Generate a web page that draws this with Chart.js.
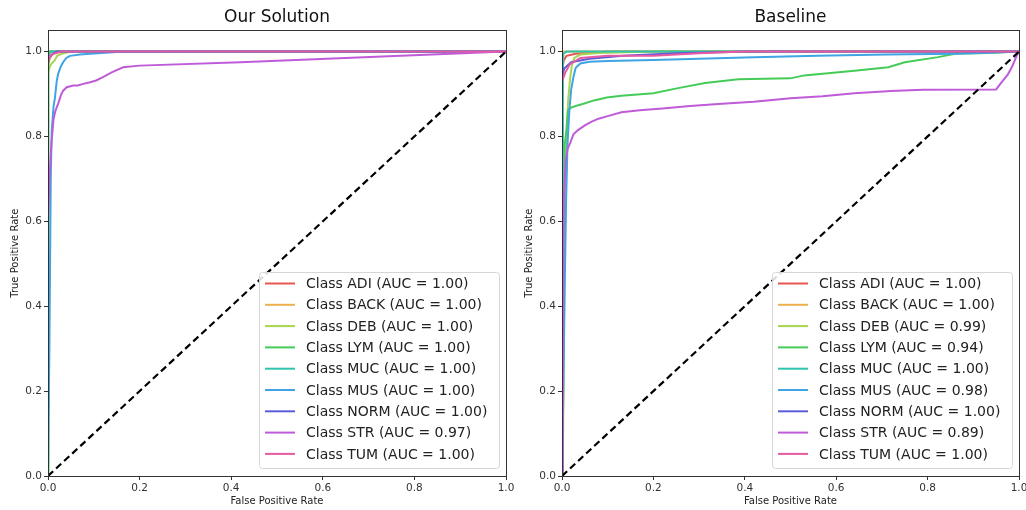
<!DOCTYPE html>
<html>
<head>
<meta charset="utf-8">
<script src="https://cdn.jsdelivr.net/npm/chart.js@4/dist/chart.umd.min.js"></script>
<style>
  html, body { margin: 0; padding: 0; background: #fff; }
  #wrap { position: relative; width: 1026px; height: 510px; overflow: hidden; }
  .box { position: absolute; top: 0; height: 510px; }
</style>
</head>
<body>
<div id="wrap">
  <div class="box" style="left:0;width:522px"><canvas id="c1" width="522" height="510"></canvas></div>
  <div class="box" style="left:513px;width:513px"><canvas id="c2" width="513" height="510"></canvas></div>
</div>
<script>
// ---------- data ----------
const categories = ['ADI', 'BACK', 'DEB', 'LYM', 'MUC', 'MUS', 'NORM', 'STR', 'TUM'];
const colors = ['#e9574f', '#eeb04f', '#a7d54f', '#45cc58', '#2fc4ad', '#3ea4e4', '#5c5cd9', '#bf5bd9', '#e75aa3'];
const oursAUC = [1.00, 1.00, 1.00, 1.00, 1.00, 1.00, 1.00, 0.97, 1.00];
const baseAUC = [1.00, 1.00, 0.99, 0.94, 1.00, 0.98, 1.00, 0.89, 1.00];
const tickValues = [0, 0.2, 0.4, 0.6, 0.8, 1.0];
const chance = [[0, 0], [1, 1]];

// ROC points [FPR, TPR] — "Our Solution"
const oursADI  = [[0, 0], [0, 0.97], [0.004, 0.985], [0.01, 0.995], [0.02, 1], [1, 1]];
const oursBACK = [[0, 0], [0, 0.998], [0.003, 1], [1, 1]];
const oursDEB  = [[0, 0], [0, 0.95], [0.004, 0.965], [0.008, 0.972], [0.015, 0.98], [0.02, 0.99], [0.03, 0.995], [0.05, 1], [1, 1]];
const oursLYM  = [[0, 0], [0, 0.999], [0.002, 1], [1, 1]];
const oursMUC  = [[0, 0], [0, 0.99], [0.006, 1], [1, 1]];
const oursMUS  = [[0, 0], [0.003, 0.3], [0.006, 0.7], [0.008, 0.81], [0.012, 0.87], [0.015, 0.89], [0.019, 0.93], [0.022, 0.947], [0.028, 0.965], [0.033, 0.975], [0.04, 0.985], [0.048, 0.99], [0.07, 0.993], [0.092, 0.995], [0.15, 0.999], [0.3, 1], [1, 1]];
const oursNORM = [[0, 0], [0, 0.98], [0.005, 0.99], [0.015, 0.998], [0.02, 1], [1, 1]];
const oursSTR  = [[0, 0], [0, 0.6], [0.004, 0.72], [0.008, 0.79], [0.012, 0.84], [0.016, 0.86], [0.022, 0.877], [0.028, 0.897], [0.033, 0.908], [0.041, 0.916], [0.055, 0.92], [0.065, 0.92], [0.077, 0.924], [0.092, 0.928], [0.105, 0.932], [0.12, 0.94], [0.139, 0.951], [0.164, 0.963], [0.2, 0.967], [0.42, 0.975], [1, 1]];
const oursTUM  = [[0, 0], [0, 0.98], [0.005, 0.99], [0.012, 0.995], [0.03, 1], [1, 1]];

// ROC points [FPR, TPR] — "Baseline"
const baseADI  = [[0, 0], [0, 0.96], [0.004, 0.98], [0.01, 0.99], [0.03, 0.995], [0.1, 1], [1, 1]];
const baseBACK = [[0, 0], [0, 0.998], [0.004, 1], [1, 1]];
const baseDEB  = [[0, 0], [0.002, 0.05], [0.004, 0.3], [0.006, 0.58], [0.009, 0.75], [0.013, 0.88], [0.018, 0.94], [0.022, 0.97], [0.027, 0.985], [0.04, 0.993], [0.08, 0.997], [0.2, 1], [1, 1]];
const baseLYM  = [[0, 0], [0.002, 0.5], [0.006, 0.78], [0.01, 0.82], [0.013, 0.862], [0.02, 0.868], [0.03, 0.872], [0.047, 0.877], [0.07, 0.885], [0.098, 0.892], [0.13, 0.896], [0.2, 0.902], [0.254, 0.914], [0.313, 0.926], [0.386, 0.935], [0.5, 0.937], [0.53, 0.944], [0.64, 0.955], [0.714, 0.963], [0.75, 0.975], [0.823, 0.987], [0.86, 0.995], [0.93, 0.997], [1, 1]];
const baseMUC  = [[0, 0], [0.002, 0.95], [0.003, 0.995], [0.01, 1], [1, 1]];
const baseMUS  = [[0, 0], [0.003, 0.2], [0.006, 0.45], [0.009, 0.65], [0.012, 0.78], [0.016, 0.86], [0.02, 0.91], [0.025, 0.94], [0.03, 0.962], [0.04, 0.972], [0.06, 0.976], [0.1, 0.978], [0.2, 0.98], [0.3, 0.983], [0.42, 0.987], [0.56, 0.99], [0.71, 0.993], [0.86, 0.995], [0.95, 0.998], [1, 1]];
const baseNORM = [[0, 0], [0, 0.94], [0.005, 0.96], [0.02, 0.975], [0.06, 0.983], [0.134, 0.99], [0.25, 0.996], [0.4, 1], [1, 1]];
const baseSTR  = [[0, 0], [0.002, 0.3], [0.004, 0.65], [0.008, 0.74], [0.012, 0.77], [0.018, 0.785], [0.025, 0.805], [0.035, 0.815], [0.05, 0.826], [0.065, 0.835], [0.08, 0.842], [0.1, 0.848], [0.13, 0.857], [0.17, 0.862], [0.22, 0.866], [0.28, 0.872], [0.35, 0.877], [0.42, 0.882], [0.5, 0.89], [0.57, 0.895], [0.64, 0.902], [0.72, 0.907], [0.79, 0.91], [0.95, 0.911], [0.96, 0.925], [0.975, 0.945], [0.985, 0.965], [0.995, 0.99], [1, 1]];
const baseTUM  = [[0, 0], [0, 0.93], [0.007, 0.95], [0.017, 0.97], [0.04, 0.985], [0.1, 0.99], [0.2, 0.99], [0.3, 0.996], [0.4, 1], [1, 1]];

const oursCurves = [oursADI, oursBACK, oursDEB, oursLYM, oursMUC, oursMUS, oursNORM, oursSTR, oursTUM];
const baseCurves = [baseADI, baseBACK, baseDEB, baseLYM, baseMUC, baseMUS, baseNORM, baseSTR, baseTUM];

// ---------- helpers ----------
const FONT = '"DejaVu Sans", "Liberation Sans", sans-serif';

function buildDatasets(curves, aucs) {
  const ds = curves.map((pts, i) => ({
    label: 'Class ' + categories[i] + ' (AUC = ' + aucs[i].toFixed(2) + ')',
    data: pts.map(p => ({ x: p[0], y: p[1] })),
    borderColor: colors[i],
    backgroundColor: colors[i],
    borderWidth: 2,
    pointRadius: 0,
    showLine: true,
    fill: false,
    tension: 0,
    order: 20 - i
  }));
  ds.push({
    label: '_chance',
    data: chance.map(p => ({ x: p[0], y: p[1] })),
    borderColor: '#000',
    borderWidth: 2.2,
    borderDash: [7, 4],
    pointRadius: 0,
    showLine: true,
    fill: false,
    order: 0
  });
  return ds;
}

const framePlugin = {
  id: 'frame',
  afterDatasetsDraw(chart) {
    const a = chart.chartArea, ctx = chart.ctx;
    ctx.save();
    ctx.strokeStyle = '#333';
    ctx.lineWidth = 1;
    ctx.strokeRect(Math.round(a.left) + 0.5, Math.round(a.top) + 0.5, Math.round(a.right - a.left), Math.round(a.bottom - a.top));
    ctx.restore();
  }
};

const boxLegendPlugin = {
  id: 'boxLegend',
  afterDraw(chart, args, opts) {
    const ctx = chart.ctx;
    const items = chart.data.datasets.filter(d => !d.label.startsWith('_'));
    const a = chart.chartArea;
    const bx = a.right - opts.fromRight, by = opts.top, bw = opts.width, bh = opts.height;
    ctx.save();
    ctx.beginPath();
    ctx.roundRect(bx + 0.5, by + 0.5, bw, bh, 3);
    ctx.fillStyle = 'rgba(255,255,255,0.85)';
    ctx.fill();
    ctx.strokeStyle = '#d6d6d6';
    ctx.lineWidth = 1;
    ctx.stroke();
    ctx.font = '14px ' + FONT;
    ctx.textBaseline = 'middle';
    ctx.fillStyle = '#222';
    items.forEach((d, i) => {
      const y = by + 11.5 + i * 21.3;
      ctx.beginPath();
      ctx.strokeStyle = d.borderColor;
      ctx.lineWidth = 2;
      ctx.moveTo(bx + 6, y);
      ctx.lineTo(bx + 36, y);
      ctx.stroke();
      ctx.fillText(d.label, bx + 47, y + 1);
    });
    ctx.restore();
  }
};

function makeChart(id, title, curves, aucs, yAxisWidth, yTitlePad, padRight) {
  return new Chart(document.getElementById(id), {
    type: 'scatter',
    data: { datasets: buildDatasets(curves, aucs) },
    options: {
      responsive: false,
      animation: false,
      devicePixelRatio: 1,
      layout: { padding: { left: 0, right: padRight, top: 0, bottom: 0 } },
      plugins: {
        legend: { display: false },
        tooltip: { enabled: false },
        title: {
          display: true,
          text: title,
          fullSize: false,
          color: '#111',
          font: { family: FONT, size: 17, weight: 'normal' },
          padding: { top: 7, bottom: 3 }
        },
        boxLegend: { fromRight: 247, top: 272, width: 240, height: 196 }
      },
      scales: {
        x: {
          type: 'linear',
          min: 0, max: 1,
          afterBuildTicks: s => { s.ticks = tickValues.map(v => ({ value: v })); },
          afterFit: s => { s.height = 34; s.paddingLeft = 0; s.paddingRight = 0; },
          ticks: {
            callback: v => Number(v).toFixed(1),
            color: '#333',
            font: { family: FONT, size: 10.5 },
            padding: 2,
            maxRotation: 0
          },
          grid: { drawOnChartArea: false, drawTicks: true, tickLength: 4, color: '#333' },
          border: { display: true, color: '#333' },
          title: {
            display: true,
            text: 'False Positive Rate',
            color: '#222',
            font: { family: FONT, size: 10 },
            padding: { top: 0, bottom: 3 }
          }
        },
        y: {
          type: 'linear',
          min: 0, max: 1.05,
          afterBuildTicks: s => { s.ticks = tickValues.map(v => ({ value: v })); },
          afterFit: s => { s.width = yAxisWidth; s.paddingTop = 0; s.paddingBottom = 0; },
          ticks: {
            callback: v => Number(v).toFixed(1),
            color: '#333',
            font: { family: FONT, size: 10.5 },
            padding: 2
          },
          grid: { drawOnChartArea: false, drawTicks: true, tickLength: 4, color: '#333' },
          border: { display: true, color: '#333' },
          title: {
            display: true,
            text: 'True Positive Rate',
            color: '#222',
            font: { family: FONT, size: 10 },
            padding: { top: yTitlePad, bottom: 0 }
          }
        }
      }
    },
    plugins: [framePlugin, boxLegendPlugin]
  });
}

makeChart('c1', 'Our Solution', oursCurves, oursAUC, 48, 9, 16);
makeChart('c2', 'Baseline', baseCurves, baseAUC, 49, 10, 7);
</script>
</body>
</html>
